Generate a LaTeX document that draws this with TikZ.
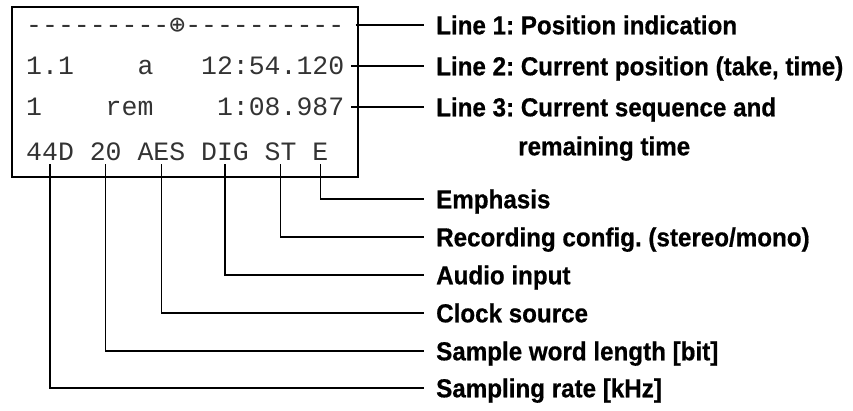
\documentclass[tikz,border=0pt]{standalone}
\usepackage{fontspec}
\setmainfont{Liberation Sans}[BoldFeatures={FakeStretch=0.93, FakeBold=0.6}]
\setmonofont{Liberation Mono}
\newfontfamily\dotsym{DejaVu Sans Mono}
\usetikzlibrary{positioning}
\frenchspacing

\tikzset{
  lcd/.style={font=\ttfamily\fontsize{26.5}{30}\selectfont, text=black!80,
    text height=17pt, text depth=0pt, inner xsep=0pt, inner ysep=4pt, anchor=west},
  lbl/.style={font=\bfseries\fontsize{26}{30}\selectfont,
    text height=18.6pt, text depth=0pt, inner xsep=12pt, inner ysep=0pt, anchor=west},
  wire/.style={line width=1.2pt}
}

\begin{document}
\begin{tikzpicture}[x=1pt, y=-1pt]
\useasboundingbox (0,0) rectangle (853,410);

% Display frame
\draw[wire] (12,7) rectangle (358,177);

% Display rows
\node[lcd] (pos) at (26,25) {---------{\dotsym ⊕}----------};
\node[lcd] (take) at (26,66) {1.1};
\node[lcd] (tk) at (137.3,66) {a};
\node[lcd] (time) at (200.9,66) {12:54.120};
\node[lcd] (seq) at (26,107) {1};
\node[lcd] (rem) at (105.5,107) {rem};
\node[lcd] (remt) at (216.8,107) {1:08.987};
\node[lcd] (rate) at (26,151.5) {44D};
\node[lcd] (bits) at (89.6,151.5) {20};
\node[lcd] (clk) at (137.3,151.5) {AES};
\node[lcd] (inp) at (200.9,151.5) {DIG};
\node[lcd] (cfg) at (264.5,151.5) {ST};
\node[lcd] (emph) at (312.2,151.5) {E};

% Labels
\node[lbl] (l1) at (424,25) {Line 1: Position indication};
\node[lbl] (l2) at (424,66) {Line 2: Current position (take, time)};
\node[lbl] (l3) at (424,107) {Line 3: Current sequence and};
\node[lbl] (l3b) at (506,146) {remaining time};
\node[lbl] (lemph) at (424,199) {Emphasis};
\node[lbl] (lcfg) at (424,237) {Recording config. (stereo/mono)};
\node[lbl] (linp) at (424,275) {Audio input};
\node[lbl] (lclk) at (424,313) {Clock source};
\node[lbl] (lbits) at (424,351) {Sample word length [bit]};
\node[lbl] (lrate) at (424,388) {Sampling rate [kHz]};

% Connectors
\draw[wire] ([xshift=11pt]pos.east) -- (l1.west);
\draw[wire] ([xshift=7pt]time.east) -- (l2.west);
\draw[wire] ([xshift=7pt]remt.east) -- (l3.west);
\foreach \w/\l in {emph/lemph, cfg/lcfg, inp/linp, clk/lclk, bits/lbits, rate/lrate}
  \draw[wire] (\w.south) |- (\l.west);
\end{tikzpicture}
\end{document}
